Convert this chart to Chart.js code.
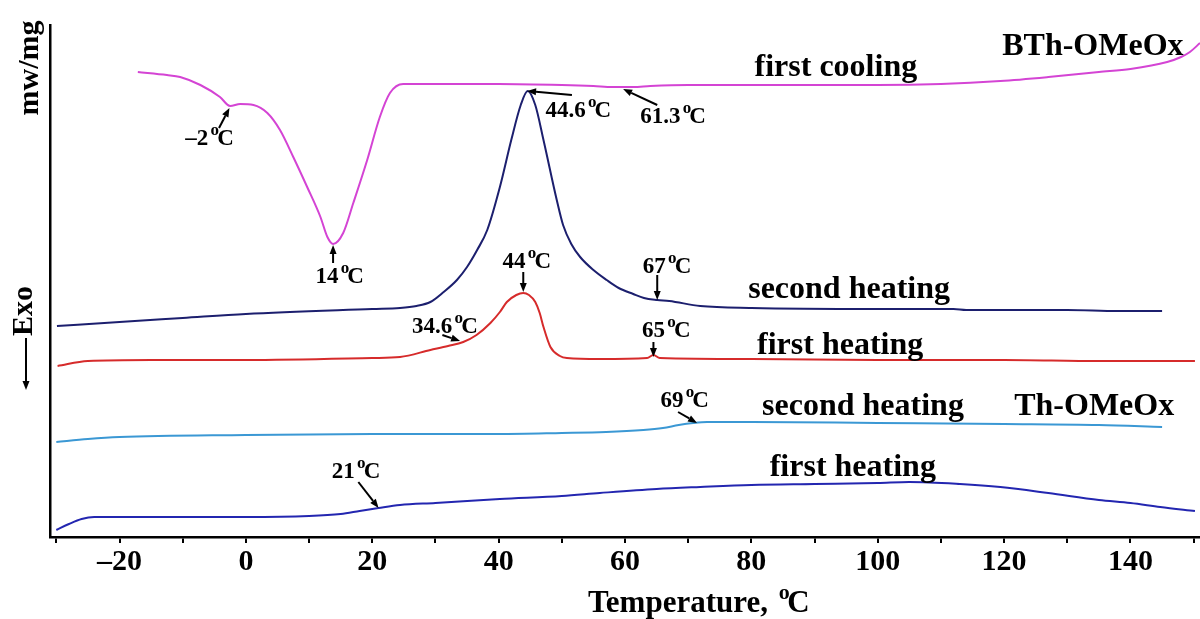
<!DOCTYPE html>
<html lang="en">
<head>
<meta charset="UTF-8">
<title>DSC curves of BTh-OMeOx and Th-OMeOx</title>
<script src="https://cdn.jsdelivr.net/npm/chart.js"></script>
<style>
  html, body { margin: 0; padding: 0; background: #fff; }
  #wrap { width: 1200px; height: 619px; }
</style>
</head>
<body>
<div id="wrap"><canvas id="dsc"></canvas></div>
<script>
// Heat flow is in arbitrary units (curves are offset), temperature in °C

// BTh-OMeOx, first cooling
const coolT = [-17.1, -12.5, -10.4, -7.2, -4.1, -2.5, -0.9, 1.2, 3.4, 5.4, 7.5, 9.7, 11.8, 12.9, 13.8, 15.4, 17.0, 19.2, 21.2, 22.8, 24.9, 30, 40, 50, 55, 58, 61.3, 64, 70, 80, 90, 100, 110, 119.4, 127, 135, 140, 145.8, 148, 149.4, 151];
const coolY = [465, 462, 460, 452, 440, 431, 433, 432, 424, 407, 380, 350, 320, 300, 293, 304, 334, 377, 420, 444, 453, 453, 453, 452, 451, 450, 450, 451, 452, 452, 452, 452, 453, 456, 460, 465, 468, 475, 480, 485, 494];

// BTh-OMeOx, second heating
const bth2T = [-29.9, -20, -10, 0, 20, 24.4, 27, 29.2, 31.3, 33.4, 35, 36.6, 38.2, 40.2, 42, 43.5, 44.6, 45.8, 47.1, 49.2, 50.2, 51.5, 52.9, 55, 57.1, 59, 61.3, 63, 65.1, 67, 71.9, 80, 100, 112, 114, 130, 138, 145];
const bth2Y = [211, 215, 219, 223, 228, 229, 231, 235, 245, 257, 270, 287, 307, 350, 397, 432, 446, 432, 397, 337, 312, 293, 280, 267, 257, 249, 243, 239, 237, 236, 231, 229, 228, 228, 227, 227, 226, 226];

// BTh-OMeOx, first heating
const bth1T = [-29.8, -25, -15, 0, 20, 24.4, 29.2, 32, 34.4, 36.5, 38.7, 40.2, 41.3, 42.8, 43.9, 44.8, 45.8, 46.5, 47.1, 48.2, 49.7, 50.8, 56, 63.5, 64.5, 65.5, 80, 100, 120, 135, 150.2];
const bth1Y = [171, 176, 177, 177, 179, 180, 187, 191, 195, 202, 214, 225, 235, 242, 244, 242, 235, 224, 210, 190, 181, 179, 178, 179, 182, 179, 178, 177, 177, 176, 176];

// Th-OMeOx, second heating
const th2T = [-30, -25, -20, 0, 20, 40, 50, 57, 62.9, 66, 68.5, 70.8, 73, 80, 100, 120, 135, 145];
const th2Y = [95, 98, 100, 102, 103, 103, 104, 105, 107, 109, 112, 114, 115, 115, 114, 113, 112, 110];

// Th-OMeOx, first heating
const th1T = [-30, -28, -26, -24, -10, 0, 10, 15, 18, 21, 24.4, 30, 40.2, 50, 56, 65, 71.9, 80, 90, 100, 105, 113, 119.4, 127, 135, 140, 144.7, 150.2];
const th1Y = [7, 13, 18, 20, 20, 20, 21, 23, 26, 29, 32, 34, 38, 41, 44, 48, 50, 52, 53, 54, 55, 53, 50, 44, 37, 34, 30, 26];

// curve names
const curveLabels = ['first cooling', 'BTh-OMeOx', 'second heating', 'first heating', 'second heating', 'Th-OMeOx', 'first heating'];
const curveLabelT = [80.5, 119.7, 79.5, 80.9, 81.7, 121.6, 82.9];
const curveLabelY = [461, 482, 239, 183, 122, 122, 61];

// marked temperatures
const markLabels = ['\u20132', '14', '44.6', '61.3', '44', '67', '34.6', '65', '69', '21'];
const markLabelT = [-9.6, 11.0, 47.4, 62.4, 40.6, 62.8, 26.3, 62.7, 65.6, 13.6];
const markLabelY = [392, 254, 420, 414, 269, 264, 204, 200, 130, 59];
const arrowFromT = [-4.25, 13.8, 51.6, 65.1, 43.9, 65.1, 31.1, 64.5, 68.4, 17.8];
const arrowFromY = [409, 274, 442, 432, 265, 262, 202, 195, 125, 55];
const arrowToT = [-2.6, 13.8, 44.5, 59.7, 43.9, 65.1, 33.9, 64.5, 71.4, 21];
const arrowToY = [429, 292, 446, 448, 245, 237, 196, 180, 114, 29];

const SERIF = '"Liberation Serif", "Times New Roman", serif';

function pts(xs, ys) {
  return xs.map((x, i) => ({ x: x, y: ys[i] }));
}

function line(data, color) {
  return {
    data: data,
    borderColor: color,
    borderWidth: 2,
    pointRadius: 0,
    fill: false,
    cubicInterpolationMode: 'monotone'
  };
}

// draws "12 °C" with a raised small o, like the original figure
function degText(ctx, txt, x, y, size) {
  ctx.font = 'bold ' + size + 'px ' + SERIF;
  ctx.fillText(txt, x, y);
  const cx = x + ctx.measureText(txt).width + size * 0.1;
  const small = Math.round(size * 0.72);
  ctx.font = 'bold ' + small + 'px ' + SERIF;
  ctx.fillText('o', cx, y - size * 0.42);
  const ow = ctx.measureText('o').width;
  ctx.font = 'bold ' + size + 'px ' + SERIF;
  ctx.fillText('C', cx + ow - size * 0.08, y);
}

function arrow(ctx, x1, y1, x2, y2) {
  const a = Math.atan2(y2 - y1, x2 - x1);
  const head = 9, half = 3.5;
  ctx.beginPath();
  ctx.moveTo(x1, y1);
  ctx.lineTo(x2 - Math.cos(a) * head, y2 - Math.sin(a) * head);
  ctx.stroke();
  ctx.beginPath();
  ctx.moveTo(x2, y2);
  ctx.lineTo(x2 - Math.cos(a) * head - Math.sin(a) * half, y2 - Math.sin(a) * head + Math.cos(a) * half);
  ctx.lineTo(x2 - Math.cos(a) * head + Math.sin(a) * half, y2 - Math.sin(a) * head - Math.cos(a) * half);
  ctx.closePath();
  ctx.fill();
}

const textPlugin = {
  id: 'dscText',
  afterDraw(chart) {
    const ctx = chart.ctx;
    const xs = chart.scales.x, ys = chart.scales.y;
    ctx.save();
    ctx.fillStyle = '#000';
    ctx.strokeStyle = '#000';
    ctx.lineWidth = 2;
    ctx.textAlign = 'left';
    ctx.textBaseline = 'alphabetic';

    ctx.font = 'bold 32px ' + SERIF;
    curveLabels.forEach((s, i) => {
      ctx.fillText(s, xs.getPixelForValue(curveLabelT[i]), ys.getPixelForValue(curveLabelY[i]));
    });

    markLabels.forEach((s, i) => {
      degText(ctx, s, xs.getPixelForValue(markLabelT[i]), ys.getPixelForValue(markLabelY[i]), 23);
      arrow(ctx,
        xs.getPixelForValue(arrowFromT[i]), ys.getPixelForValue(arrowFromY[i]),
        xs.getPixelForValue(arrowToT[i]), ys.getPixelForValue(arrowToY[i]));
    });

    // axis title
    degText(ctx, 'Temperature, ', 588, 612, 31);

    // y axis labels (rotated)
    ctx.save();
    ctx.translate(30, 68);
    ctx.rotate(-Math.PI / 2);
    ctx.textAlign = 'center';
    ctx.textBaseline = 'middle';
    ctx.font = 'bold 30px ' + SERIF;
    ctx.fillText('mw/mg', 0, 0);
    ctx.restore();

    ctx.save();
    ctx.translate(24, 311);
    ctx.rotate(-Math.PI / 2);
    ctx.textAlign = 'center';
    ctx.textBaseline = 'middle';
    ctx.font = 'bold 30px ' + SERIF;
    ctx.fillText('Exo', 0, 0);
    ctx.restore();
    arrow(ctx, 26, 338, 26, 390);

    ctx.restore();
  }
};

new Chart(document.getElementById('dsc'), {
  type: 'line',
  data: {
    datasets: [
      line(pts(coolT, coolY), '#d444d4'),
      line(pts(bth2T, bth2Y), '#1c1f6e'),
      line(pts(bth1T, bth1Y), '#d62b2b'),
      line(pts(th2T, th2Y), '#3b98d4'),
      line(pts(th1T, th1Y), '#2326b0')
    ]
  },
  options: {
    responsive: true,
    maintainAspectRatio: false,
    animation: false,
    layout: { padding: { top: 25, right: 0, left: 0, bottom: 0 } },
    plugins: { legend: { display: false }, tooltip: { enabled: false } },
    scales: {
      x: {
        type: 'linear',
        min: -31,
        max: 151,
        grid: { drawOnChartArea: false, drawTicks: true, tickLength: 6, color: '#000', lineWidth: 2 },
        border: { display: true, color: '#000', width: 2.5 },
        ticks: {
          stepSize: 10,
          includeBounds: false,
          autoSkip: false,
          maxRotation: 0,
          padding: 1,
          color: '#000',
          font: { family: SERIF, size: 30, weight: 'bold' },
          callback: v => (v % 20 === 0 ? String(v).replace('-', '\u2013') : '')
        },
        afterFit: s => { s.height = 82; }
      },
      y: {
        type: 'linear',
        min: 0,
        max: 512,
        grid: { display: false },
        border: { display: true, color: '#000', width: 2.5 },
        ticks: { display: false },
        afterFit: s => { s.width = 50; }
      }
    }
  },
  plugins: [textPlugin]
});
</script>
</body>
</html>
